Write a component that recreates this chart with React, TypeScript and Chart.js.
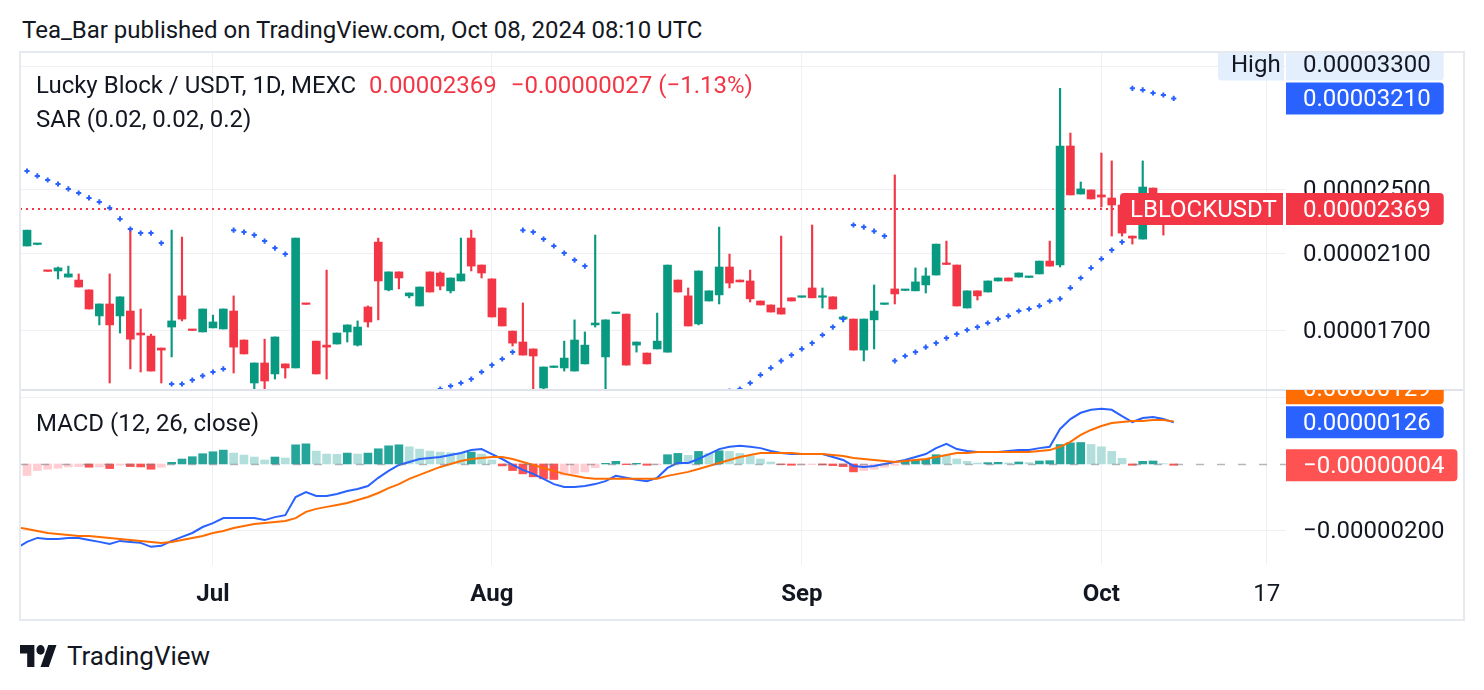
import React, { useEffect, useRef } from 'react';
import { Chart, registerables } from 'chart.js';

Chart.register(...registerables);

// Lucky Block / USDT, 1D, MEXC — prices in units of 1e-8 USDT, one entry per daily bar
const opens = [
  1934, 2141, 2150, 2002, 1999, 1966, 1950, 1898, 1767, 1826,
  1767, 1791, 1686, 1672, 1618, 1714, 1867, 1702, 1691, 1710,
  1705, 1791, 1654, 1470, 1553, 1507, 1549, 1532, 1828, 1649,
  1631, 1636, 1691, 1631, 1811, 2164, 1898, 1994, 1867, 1816,
  1994, 1988, 1893, 1945, 2188, 2032, 1956, 1806, 1695, 1645,
  1614, 1450, 1534, 1532, 1519, 1549, 1724, 1579, 1779, 1776,
  1631, 1596, 1614, 1600, 1950, 1867, 1729, 1841, 1872, 2021,
  1950, 1945, 1841, 1821, 1806, 1857, 1860, 1908, 1860, 1862,
  1752, 1752, 1609, 1748, 1824, 1903, 1895, 1893, 1924, 1977,
  2040, 2032, 1806, 1893, 1887, 1945, 1961, 1966, 1964, 1983,
  2054, 2032, 2817, 2469, 2497, 2463, 2442, 2396, 2200, 2182,
  2510, 2440, 2396,
];
const highs = [
  2043, 2236, 2156, 2002, 2021, 2026, 1983, 1898, 1826, 1983,
  1862, 2243, 1801, 1681, 1618, 2236, 2194, 1702, 1801, 1771,
  1801, 1867, 1654, 1553, 1658, 1668, 1549, 2188, 1828, 1649,
  2004, 1686, 1724, 1743, 1816, 2188, 1994, 1994, 1882, 1913,
  1994, 1994, 1961, 2188, 2236, 2032, 1956, 1806, 1695, 1831,
  1614, 1536, 1540, 1649, 1748, 1691, 2206, 1748, 1783, 1776,
  1645, 1596, 1781, 2032, 1950, 1908, 1999, 1893, 2255, 2094,
  1950, 2004, 1841, 1821, 2200, 1857, 1865, 2268, 1908, 1862,
  1767, 1752, 1752, 1924, 1828, 2602, 1900, 2016, 2016, 2152,
  2170, 2032, 1893, 1893, 1945, 1961, 1961, 1988, 1968, 2054,
  2170, 3300, 2919, 2552, 2497, 2763, 2704, 2400, 2200, 2704,
  2510, 2445, 2400,
];
const lows = [
  1934, 2141, 2148, 1997, 1956, 1966, 1913, 1801, 1724, 1470,
  1686, 1528, 1515, 1519, 1470, 1579, 1743, 1698, 1691, 1710,
  1705, 1511, 1592, 1380, 1250, 1486, 1490, 1532, 1824, 1507,
  1486, 1636, 1645, 1627, 1714, 1748, 1893, 1903, 1857, 1816,
  1887, 1898, 1882, 1945, 1999, 1961, 1762, 1719, 1627, 1587,
  1300, 1446, 1534, 1519, 1519, 1549, 1714, 1400, 1779, 1544,
  1600, 1549, 1614, 1600, 1887, 1719, 1724, 1841, 1826, 1908,
  1940, 1836, 1821, 1786, 1776, 1841, 1860, 1857, 1806, 1801,
  1738, 1609, 1562, 1614, 1824, 1826, 1895, 1893, 1882, 1977,
  2035, 1816, 1806, 1846, 1887, 1945, 1945, 1966, 1964, 1983,
  2026, 2021, 2463, 2469, 2436, 2383, 2200, 2200, 2152, 2182,
  2380, 2206, 2350,
];
const closes = [
  2043, 2236, 2154, 1997, 2016, 1983, 1913, 1801, 1826, 1724,
  1862, 1658, 1677, 1519, 1609, 1743, 1752, 1698, 1801, 1738,
  1801, 1622, 1592, 1553, 1478, 1668, 1532, 2188, 1824, 1507,
  1622, 1686, 1724, 1714, 1738, 1945, 1994, 1961, 1882, 1913,
  1887, 1918, 1961, 1983, 2026, 1988, 1762, 1719, 1640, 1587,
  1583, 1536, 1540, 1574, 1654, 1631, 1733, 1748, 1783, 1544,
  1645, 1549, 1649, 2032, 1887, 1719, 1999, 1893, 2021, 1934,
  1940, 1852, 1821, 1786, 1776, 1841, 1865, 1857, 1865, 1801,
  1762, 1609, 1752, 1791, 1828, 1877, 1900, 1940, 1972, 2152,
  2035, 1816, 1893, 1867, 1945, 1961, 1945, 1988, 1968, 2054,
  2026, 2817, 2463, 2504, 2436, 2449, 2396, 2218, 2188, 2517,
  2440, 2396, 2369,
];
// Parabolic SAR (0.02, 0.02, 0.2)
const sar = [
  2660, 2630, 2595, 2566, 2538, 2504, 2476, 2443, 2416, 2377,
  2306, 2243, 2218, 2218, 2158, 1466, 1466, 1482, 1499, 1515,
  1528, 2236, 2224, 2206, 2170, 2129, 2094, 1250, 1268, 1285,
  1302, 1318, 1333, 1348, 1362, 1376, 1389, 1402, 1414, 1425,
  1436, 1446, 1458, 1470, 1486, 1515, 1544, 1570, 1600, 2236,
  2224, 2182, 2141, 2100, 2060, 2026, 1300, 1316, 1331, 1345,
  1358, 1370, 1381, 1392, 1402, 1411, 1419, 1426, 1432, 1438,
  1446, 1470, 1503, 1532, 1562, 1587, 1614, 1640, 1677, 1714,
  1752, 2268, 2255, 2230, 2200, 1562, 1583, 1600, 1622, 1640,
  1663, 1681, 1700, 1714, 1733, 1752, 1767, 1791, 1801, 1816,
  1841, 1852, 1908, 1961, 2016, 2066, 2117, 2164, 3300, 3286,
  3258, 3240, 3210,
];
// MACD (12, 26, close) — units of 1e-8
const macdLine = [
  -255, -236, -224, -227, -227, -224, -224, -230, -236, -242,
  -233, -236, -239, -251, -248, -233, -221, -209, -191, -179,
  -164, -164, -164, -164, -170, -161, -155, -100, -85, -97,
  -97, -91, -82, -76, -67, -42, -21, -3, 6, 15,
  18, 21, 27, 33, 42, 45, 30, 15, -3, -18,
  -30, -45, -61, -70, -70, -67, -61, -52, -36, -42,
  -48, -52, -42, -12, 3, 3, 15, 30, 45, 52,
  55, 52, 48, 39, 33, 30, 30, 30, 30, 21,
  12, -6, -9, -6, 0, 6, 12, 21, 30, 48,
  61, 45, 39, 36, 36, 36, 39, 42, 42, 48,
  52, 106, 136, 155, 164, 167, 164, 145, 127, 139,
  142, 136, 126,
];
const signalLine = [
  -191, -197, -203, -209, -212, -215, -218, -218, -221, -224,
  -227, -230, -233, -236, -239, -236, -230, -224, -218, -209,
  -203, -194, -188, -182, -179, -176, -173, -164, -145, -136,
  -130, -124, -118, -109, -100, -88, -73, -61, -45, -33,
  -21, -9, 0, 9, 15, 18, 21, 21, 15, 6,
  -3, -12, -21, -30, -36, -42, -45, -45, -45, -45,
  -45, -45, -45, -36, -30, -24, -15, -6, 3, 12,
  21, 27, 33, 33, 33, 33, 30, 30, 30, 27,
  24, 18, 15, 12, 9, 6, 9, 12, 15, 21,
  27, 33, 33, 36, 36, 36, 36, 36, 36, 39,
  42, 52, 67, 88, 103, 115, 124, 127, 130, 130,
  133, 133, 129,
];
const histogram = [
  -38, -35, -20, -16, -13, -9, -8, -10, -9, -14,
  -4, -8, -9, -16, -10, 5, 15, 22, 31, 37,
  42, 33, 27, 21, 12, 21, 18, 58, 61, 39,
  30, 29, 33, 30, 33, 46, 55, 58, 52, 45,
  39, 36, 34, 32, 36, 30, 12, -6, -20, -30,
  -39, -45, -47, -34, -29, -24, -11, 2, 8, -2,
  2, -4, -2, 28, 32, 26, 38, 32, 40, 38,
  32, 24, 15, 6, -2, -4, -3, -2, -3, -5,
  -8, -24, -20, -16, -10, -4, 10, 11, 14, 28,
  26, 15, 8, 3, 4, 5, 3, 6, 4, 9,
  10, 59, 64, 65, 59, 52, 38, 17, -4, 8,
  9, 1, -4,
];
const priceTicks = [1700, 2100, 2500, 3500];
const macdTicks = [-200, 200];
const macdLabelledTicks = [-200];
const timeTickBars = [19, 46, 76, 105, 121];
const timeTickLabels = ['Jul', 'Aug', 'Sep', 'Oct', '17'];

const FONT = 'Roboto, "Noto Sans", "DejaVu Sans", sans-serif';
const UP = '#089981';
const DOWN = '#F23645';
const GRID = '#eef0f4';
const TEXT = '#131722';

const fmt = (v: number) => (v < 0 ? '\u2212' : '') + (Math.abs(v) / 1e8).toFixed(8);

function drawTag(ctx: any, x: number, yc: number, w: number, bg: string, fg: string, text: string, padL: number, radii: number[]) {
  const h = 32;
  ctx.fillStyle = bg;
  ctx.beginPath();
  ctx.roundRect(x, yc - h / 2, w, h, radii);
  ctx.fill();
  ctx.fillStyle = fg;
  ctx.font = `24px ${FONT}`;
  ctx.textBaseline = 'middle';
  ctx.textAlign = 'left';
  ctx.fillText(text, x + padL, yc + 2);
}

const overlayPlugin = {
  id: 'tvOverlay',
  beforeDatasetsDraw(chart: any) {
    const { ctx, chartArea } = chart;
    const y = chart.scales.y;
    const py = Math.round(y.getPixelForValue(closes[closes.length - 1]));
    ctx.save();
    ctx.strokeStyle = DOWN;
    ctx.lineWidth = 2;
    ctx.setLineDash([2, 4]);
    ctx.beginPath();
    ctx.moveTo(chartArea.left, py);
    ctx.lineTo(chartArea.right, py);
    ctx.stroke();
    ctx.restore();
  },
  afterDatasetsDraw(chart: any) {
    const { ctx, chartArea } = chart;
    const m = chart.scales.m;
    const py = Math.round(m.getPixelForValue(0)) + 0.5;
    ctx.save();
    ctx.strokeStyle = 'rgba(120,123,134,0.55)';
    ctx.lineWidth = 1.5;
    ctx.setLineDash([8, 13]);
    ctx.beginPath();
    ctx.moveTo(chartArea.left, py);
    ctx.lineTo(chartArea.right, py);
    ctx.stroke();
    ctx.restore();
  },
  afterDraw(chart: any) {
    const { ctx, chartArea } = chart;
    const y = chart.scales.y;
    const m = chart.scales.m;
    const L = chartArea.right;
    const last = closes.length - 1;

    // pane separator
    ctx.save();
    ctx.fillStyle = '#e0e3eb';
    ctx.fillRect(0, Math.round(m.top) - 1, chart.width, 2);
    ctx.restore();

    ctx.font = `24px ${FONT}`;
    const tw = (s: string) => ctx.measureText(s).width;

    // price pane labels
    ctx.save();
    ctx.beginPath();
    ctx.rect(0, y.top, chart.width, y.bottom - y.top);
    ctx.clip();
    const maxHigh = Math.max(...highs);
    const yRed = y.getPixelForValue(closes[last]);
    const yBlue = y.getPixelForValue(sar[sar.length - 1]);
    const yHigh = Math.min(y.getPixelForValue(maxHigh), yBlue - 34);
    drawTag(ctx, L - 68, yHigh, 66, '#E3EFFD', TEXT, 'High', 13, [4, 0, 0, 4]);
    drawTag(ctx, L, yHigh, tw(fmt(maxHigh)) + 30, '#E3EFFD', TEXT, fmt(maxHigh), 17, [0, 4, 4, 0]);
    drawTag(ctx, L, yBlue, tw(fmt(sar[sar.length - 1])) + 30, '#2962FF', '#ffffff', fmt(sar[sar.length - 1]), 17, [0, 4, 4, 0]);
    drawTag(ctx, L - 166, yRed, 163, DOWN, '#ffffff', 'LBLOCKUSDT', 10, [4, 0, 0, 4]);
    drawTag(ctx, L, yRed, tw(fmt(closes[last])) + 30, DOWN, '#ffffff', fmt(closes[last]), 17, [0, 4, 4, 0]);
    ctx.restore();

    // MACD pane labels
    ctx.save();
    ctx.beginPath();
    ctx.rect(0, m.top, chart.width, m.bottom - m.top);
    ctx.clip();
    const lm = macdLine.length - 1;
    const yMacd = m.getPixelForValue(macdLine[lm]);
    const ySig0 = m.getPixelForValue(signalLine[lm]);
    const ySig = Math.abs(ySig0 - yMacd) < 34 ? yMacd - 34 : ySig0;
    const yHist = m.getPixelForValue(histogram[lm]);
    drawTag(ctx, L, ySig, tw(fmt(signalLine[lm])) + 30, '#FF6D00', '#ffffff', fmt(signalLine[lm]), 17, [0, 4, 4, 0]);
    drawTag(ctx, L, yMacd, tw(fmt(macdLine[lm])) + 30, '#2962FF', '#ffffff', fmt(macdLine[lm]), 17, [0, 4, 4, 0]);
    drawTag(ctx, L, yHist, tw(fmt(histogram[lm])) + 30, '#FF5252', '#ffffff', fmt(histogram[lm]), 17, [0, 4, 4, 0]);
    ctx.restore();
  },
};

export default function App() {
  const ref = useRef<HTMLCanvasElement>(null);

  useEffect(() => {
    if (!ref.current) return;
    Chart.defaults.font.family = FONT;
    const idx = closes.map((_, i) => i);
    const candleColors = idx.map((i) => (closes[i] >= opens[i] ? UP : DOWN));
    const histColors = histogram.map((h, i) => {
      const prev = i > 0 ? histogram[i - 1] : h;
      if (h >= 0) return h > prev ? '#26A69A' : '#B2DFDB';
      return h < prev ? '#FF5252' : '#FFCDD2';
    });

    const chart = new Chart(ref.current, {
      data: {
        datasets: [
          {
            type: 'scatter',
            label: 'SAR',
            data: sar.map((v, i) => ({ x: i, y: v })),
            xAxisID: 'x',
            yAxisID: 'y',
            pointStyle: 'cross',
            pointRadius: 2.6,
            borderWidth: 2,
            borderColor: '#2962FF',
            backgroundColor: '#2962FF',
            clip: 0,
            order: 0,
          } as any,
          {
            type: 'bar',
            label: 'body',
            data: idx.map((i) => ({ x: i, y: [opens[i], closes[i]] })),
            xAxisID: 'x',
            yAxisID: 'y',
            backgroundColor: candleColors,
            barThickness: 8,
            grouped: false,
            minBarLength: 1.5,
            clip: 0,
            order: 1,
          } as any,
          {
            type: 'bar',
            label: 'wick',
            data: idx.map((i) => ({ x: i, y: [lows[i], highs[i]] })),
            xAxisID: 'x',
            yAxisID: 'y',
            backgroundColor: candleColors,
            barThickness: 1.5,
            grouped: false,
            clip: 0,
            order: 2,
          } as any,
          {
            type: 'line',
            label: 'Signal',
            data: signalLine.map((v, i) => ({ x: i, y: v })),
            xAxisID: 'x',
            yAxisID: 'm',
            borderColor: '#FF6D00',
            borderWidth: 2,
            pointRadius: 0,
            tension: 0,
            clip: 0,
            order: 3,
          } as any,
          {
            type: 'line',
            label: 'MACD',
            data: macdLine.map((v, i) => ({ x: i, y: v })),
            xAxisID: 'x',
            yAxisID: 'm',
            borderColor: '#2962FF',
            borderWidth: 2,
            pointRadius: 0,
            tension: 0,
            clip: 0,
            order: 4,
          } as any,
          {
            type: 'bar',
            label: 'Histogram',
            data: histogram.map((v, i) => ({ x: i, y: v })),
            xAxisID: 'x',
            yAxisID: 'm',
            backgroundColor: histColors,
            barThickness: 8,
            grouped: false,
            clip: 0,
            order: 5,
          } as any,
        ],
      },
      options: {
        responsive: false,
        animation: false,
        devicePixelRatio: 1,
        layout: { padding: 0, autoPadding: false } as any,
        plugins: { legend: { display: false }, tooltip: { enabled: false } },
        scales: {
          x: {
            type: 'linear',
            position: 'bottom',
            offset: false,
            bounds: 'data',
            min: 0.32,
            max: 122.87,
            grid: { color: GRID, lineWidth: 1, drawTicks: false, offset: false },
            border: { display: false },
            ticks: {
              autoSkip: false,
              maxRotation: 0,
              minRotation: 0,
              padding: 16,
              color: TEXT,
              font: (c: any) => ({ family: FONT, size: 24, weight: c.tick && c.tick.label === '17' ? 'normal' : 'bold' }),
              callback: (_v: any, i: number) => timeTickLabels[i],
            },
            afterBuildTicks: (s: any) => {
              s.ticks = timeTickBars.map((v) => ({ value: v }));
            },
            afterFit: (s: any) => {
              s.height = 53;
              s.paddingLeft = 0;
              s.paddingRight = 0;
            },
          } as any,
          y: {
            type: 'logarithmic',
            position: 'right',
            stack: 'panes',
            stackWeight: 338,
            min: 1442,
            max: 3646,
            grid: { color: GRID, lineWidth: 1, drawTicks: false },
            border: { display: false },
            ticks: {
              padding: 17,
              labelOffset: 2,
              color: TEXT,
              font: { family: FONT, size: 24 },
              callback: (v: any) => fmt(Number(v)),
            },
            afterBuildTicks: (s: any) => {
              s.ticks = priceTicks.map((v) => ({ value: v }));
            },
            afterFit: (s: any) => {
              s.width = 178;
              s.paddingTop = 0;
              s.paddingBottom = 0;
            },
          } as any,
          m: {
            type: 'linear',
            position: 'right',
            stack: 'panes',
            stackWeight: 175,
            min: -306,
            max: 224,
            grid: { color: GRID, lineWidth: 1, drawTicks: false },
            border: { display: false },
            ticks: {
              padding: 17,
              labelOffset: 2,
              color: TEXT,
              font: { family: FONT, size: 24 },
              callback: (v: any) => (macdLabelledTicks.includes(Number(v)) ? fmt(Number(v)) : ''),
            },
            afterBuildTicks: (s: any) => {
              s.ticks = macdTicks.map((v) => ({ value: v }));
            },
            afterFit: (s: any) => {
              s.width = 178;
              s.paddingTop = 0;
              s.paddingBottom = 0;
            },
          } as any,
        },
      },
      plugins: [overlayPlugin],
    } as any);

    return () => chart.destroy();
  }, []);

  const last = closes.length - 1;
  const change = closes[last] - closes[last - 1];
  const pct = ((change / closes[last - 1]) * 100).toFixed(2).replace('-', '\u2212');

  const txt: React.CSSProperties = {
    position: 'absolute',
    fontFamily: FONT,
    color: TEXT,
    whiteSpace: 'nowrap',
    lineHeight: '28px',
  };

  return (
    <div style={{ position: 'absolute', left: 0, top: 0, width: 1484, height: 690, background: '#ffffff', overflow: 'hidden' }}>
      <div style={{ ...txt, left: 22, top: 16, fontSize: 24 }}>
        Tea_Bar published on TradingView.com, Oct 08, 2024 08:10 UTC
      </div>
      <canvas
        ref={ref}
        width={1444}
        height={566}
        style={{ position: 'absolute', left: 20, top: 52, width: 1444, height: 566 }}
      />
      <div
        style={{
          position: 'absolute',
          left: 19,
          top: 51,
          width: 1446,
          height: 570,
          border: '2px solid #e6e9ee',
          boxSizing: 'border-box',
          pointerEvents: 'none',
        }}
      />
      <div style={{ ...txt, left: 36, top: 71, fontSize: 24 }}>
        Lucky Block / USDT, 1D, MEXC
        <span style={{ color: DOWN, marginLeft: 13 }}>{fmt(closes[last])}</span>
        <span style={{ color: DOWN, marginLeft: 14 }}>{fmt(change)} ({pct}%)</span>
      </div>
      <div style={{ ...txt, left: 36, top: 105, fontSize: 24 }}>SAR (0.02, 0.02, 0.2)</div>
      <div style={{ ...txt, left: 36, top: 409, fontSize: 24 }}>MACD (12, 26, close)</div>
      <svg
        style={{ position: 'absolute', left: 20, top: 645 }}
        width={37}
        height={22}
        viewBox="0 4 36 18"
        preserveAspectRatio="none"
      >
        <path d="M14 22H7V11H0V4h14v18zM28 22h-8l7.5-18h8L28 22z" fill={TEXT} />
        <circle cx={20} cy={8} r={4} fill={TEXT} />
      </svg>
      <div style={{ ...txt, left: 67, top: 642, fontSize: 26 }}>TradingView</div>
    </div>
  );
}
